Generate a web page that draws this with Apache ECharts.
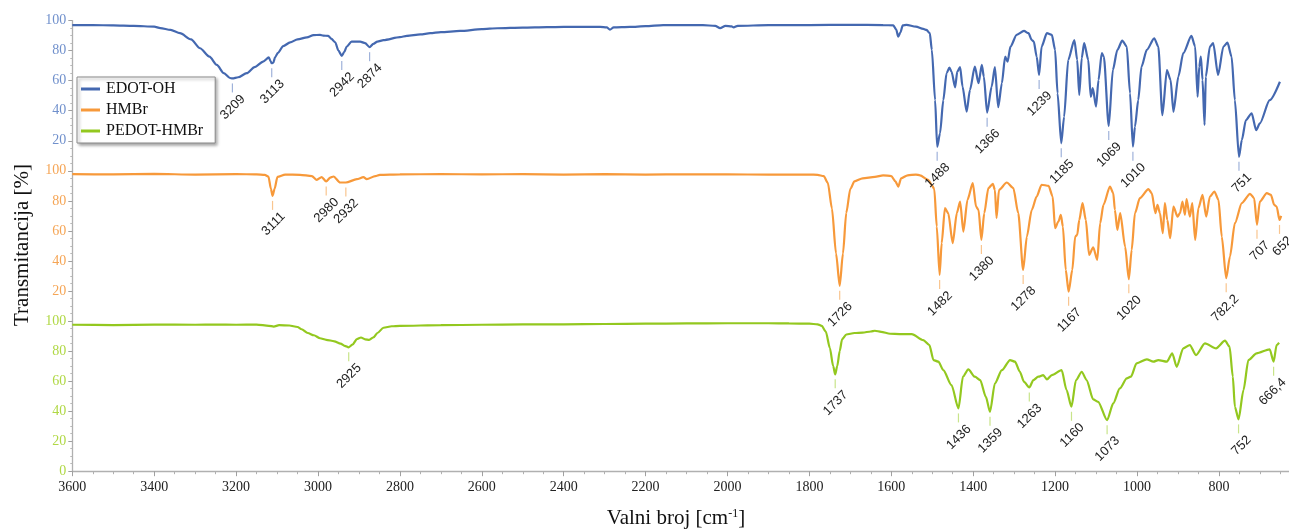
<!DOCTYPE html>
<html><head><meta charset="utf-8">
<script src="https://cdn.jsdelivr.net/npm/echarts@6/dist/echarts.min.js"></script>
<style>html,body{margin:0;padding:0;background:#fff;overflow:hidden;width:1289px;height:530px}#c{width:1310px;height:530px}</style>
</head><body><div id="c"></div>
<script>
// ---- data: [wavenumber (cm-1), transmittance (%)] ----
const seriesNames = ['EDOT-OH', 'HMBr', 'PEDOT-HMBr'];
const xTicks = [3600, 3400, 3200, 3000, 2800, 2600, 2400, 2200, 2000, 1800, 1600, 1400, 1200, 1000, 800];
const yTicks = [0, 20, 40, 60, 80, 100];

const edotOH = [[3600,97],[3550,97],[3500,96.8],[3450,96.5],[3400,96],[3385,95],[3360,93.8],[3337,91.6],[3310,87.5],[3288,81.6],[3265,76],[3247,70.5],[3230,65],[3215,61.8],[3209,61.5],[3195,62.3],[3174,65],[3155,69],[3134,72.7],[3120,75.5],[3116,73],[3113,71.6],[3109,72],[3105,75.5],[3098,78.5],[3085,83],[3068,85.5],[3050,87.5],[3027,88.8],[3011,90.3],[2995,90.5],[2987,90],[2975,89.8],[2967,87.8],[2958,85.5],[2950,80],[2942,76.5],[2936,79],[2930,82.7],[2918,86],[2897,86],[2885,85],[2874,82.3],[2865,84.5],[2855,86],[2840,87],[2800,89],[2783,89.8],[2750,90.8],[2726,91.6],[2700,92.3],[2653,93.1],[2600,94.3],[2562,94.9],[2500,95.3],[2441,95.6],[2400,95.8],[2311,95.8],[2295,95.5],[2287,94],[2278,95.5],[2238,95.8],[2200,96.3],[2157,97],[2116,97],[2060,97],[2030,96.5],[2018,95],[2005,96.5],[1990,96.2],[1985,95.5],[1975,96.5],[1900,97],[1800,97],[1700,97.2],[1620,97],[1595,96.8],[1588,94],[1583,89.3],[1578,92],[1572,96.8],[1563,97.2],[1540,96],[1522,94.5],[1514,93.8],[1506,91.6],[1501,80.5],[1493,47],[1488,16],[1481,25],[1473,47],[1465,65],[1458,68.7],[1453,66],[1444,55.6],[1439,66],[1432,69],[1426,56],[1416,39.3],[1408,53.8],[1396,69.3],[1387,58.3],[1379,70.5],[1374,62.7],[1366,38.7],[1355,56],[1347,69],[1339,42.3],[1330,58.3],[1322,76],[1316,72.7],[1309,82.7],[1294,90.5],[1276,93.1],[1265,91.6],[1257,87.1],[1252,86],[1245,76],[1239,63.8],[1233,82.7],[1220,91.6],[1208,90.5],[1200,80.5],[1194,51.6],[1185,18.3],[1178,36],[1168,73.8],[1153,87.1],[1146,73.8],[1141,50.5],[1135,75],[1129,85],[1119,73.8],[1113,49.3],[1108,55],[1100,42.7],[1094,60.5],[1086,78.3],[1081,76],[1069,29.8],[1059,67.1],[1048,80.5],[1036,86.7],[1025,82.7],[1017,51.6],[1010,16],[1005,29.3],[997,47],[989,69.3],[976,80.5],[958,88.2],[948,82.7],[938,37.1],[927,67.1],[918,60.5],[911,39.3],[899,62.7],[887,78.3],[867,89.8],[858,82.7],[852,49.3],[848,69.3],[844,76],[840,60.5],[835,30.5],[832,62.7],[822,82.7],[814,85],[802,63.8],[789,82.7],[779,85.3],[769,76],[761,47],[751,9.3],[744,20.5],[734,33.8],[720,38.3],[709,27.1],[700,31.6],[676,47],[651,59.3]];

const hmbr = [[3600,97.8],[3500,97.6],[3400,97.9],[3300,97.5],[3200,97.8],[3150,97.6],[3130,97.3],[3121,96.2],[3115,88],[3111,83.3],[3106,88],[3099,96],[3080,97.5],[3044,97.3],[3015,96.5],[3003,94],[2991,95.8],[2980,92.9],[2970,95.5],[2962,96.2],[2946,92.2],[2932,92.2],[2905,94.4],[2889,95.8],[2881,94.4],[2860,96.5],[2849,97.3],[2800,97.6],[2700,97.8],[2600,97.6],[2500,97.8],[2400,97.5],[2300,97.8],[2200,97.5],[2100,97.7],[2000,97.6],[1900,97.5],[1800,97.5],[1780,97.3],[1765,96.5],[1755,92],[1745,75],[1735,45],[1726,23.5],[1718,45],[1710,72],[1700,88],[1690,93],[1670,95],[1640,96],[1620,97],[1600,96.5],[1590,93],[1583,89.5],[1576,95],[1560,97],[1540,97.5],[1530,97],[1510,94],[1500,90],[1495,87.8],[1489,62.9],[1482,30.7],[1477,51.8],[1469,75.1],[1461,71.8],[1450,51.8],[1440,71.8],[1432,79.5],[1424,59.5],[1414,80.7],[1401,91.8],[1393,76.2],[1387,74],[1380,54],[1373,71.8],[1363,88.5],[1352,91.3],[1347,87.3],[1343,68.5],[1337,87.3],[1318,92.2],[1302,88.5],[1290,71.8],[1278,34],[1269,56.2],[1257,74],[1245,82.9],[1233,90.7],[1216,90],[1206,82.9],[1200,61.8],[1192,66.2],[1186,70.7],[1181,62.9],[1174,34],[1167,19.5],[1158,34],[1151,56.2],[1146,57.3],[1141,67.3],[1133,78.5],[1125,67.3],[1117,44],[1107,49.1],[1097,40.7],[1090,65.1],[1082,77.3],[1066,89.5],[1058,85.1],[1054,74],[1048,60.7],[1041,71.8],[1029,49.5],[1020,27.8],[1013,47.3],[1005,71.8],[993,81.8],[972,87.8],[964,85.1],[955,71.8],[950,77.3],[944,71.8],[937,58.5],[932,78.5],[926,67.3],[919,55.1],[911,76.2],[901,69.5],[895,71.8],[889,79.5],[883,70.7],[879,81.1],[871,69.5],[865,78.5],[858,54],[850,75.1],[840,84],[831,69.5],[822,82.9],[811,86.2],[801,80.7],[793,56.2],[782.2,28.5],[773,42.9],[761,65.1],[744,78.5],[724,84.7],[714,81.8],[707,64],[700,79.5],[683,85.1],[673,84],[665,77.3],[659,76.2],[652,67.3],[648,70]];

const pedotHmbr = [[3600,97.5],[3500,97.3],[3400,97.6],[3300,97.5],[3250,97.6],[3200,97.5],[3150,97.6],[3120,96.8],[3108,96.3],[3095,97.2],[3070,97],[3050,96],[3040,94.5],[3025,92],[3010,90.5],[2995,88.5],[2980,87.5],[2960,86.5],[2945,85],[2935,83.5],[2925,82.5],[2915,84.5],[2905,88],[2895,89],[2885,87.8],[2875,87.5],[2865,89],[2855,92],[2840,95.5],[2820,96.5],[2800,96.8],[2700,97.2],[2600,97.5],[2500,97.8],[2400,97.8],[2300,98],[2200,98.2],[2100,98.4],[2000,98.5],[1900,98.5],[1850,98.4],[1800,98.2],[1780,97.8],[1770,96.8],[1760,93],[1750,82],[1742,70],[1737,64.5],[1732,70],[1726,80],[1720,88],[1710,91],[1690,92],[1670,92.3],[1650,93],[1640,93.5],[1625,92.8],[1603,91.5],[1580,91.3],[1550,91.3],[1522,87.3],[1507,84],[1497,74],[1485,72.9],[1473,67.3],[1453,57.3],[1436,41.8],[1425,62.9],[1412,67.8],[1396,62.9],[1383,60.7],[1369,49.5],[1359,39.5],[1347,58.5],[1330,67.3],[1310,74],[1298,72.9],[1286,66.2],[1276,59.5],[1263,55.8],[1253,60.7],[1241,62.9],[1229,64],[1220,61.1],[1208,64],[1184,67.3],[1172,54],[1160,42.9],[1149,60.7],[1135,66.2],[1123,60.7],[1107,47.8],[1095,46.2],[1073,34],[1058,45.1],[1042,55.1],[1025,61.8],[1015,62.9],[1001,71.8],[976,74.5],[960,72.9],[948,74],[927,72.9],[914,78.5],[903,69.5],[887,81.8],[871,84],[856,77.3],[834,85.1],[807,81.8],[785,86.9],[774,82.9],[766,62.9],[761,42.9],[752,34.5],[740,54],[728,74],[708,78.5],[676,81.1],[666.4,72.9],[659,84],[653,85.5]];

// peak annotations: [wavenumber, transmittance at the peak]
const edotPeaks = [[3209,61.5],[3113,71.6],[2942,76.5],[2874,82.3],[1488,16],[1366,38.7],[1239,63.8],[1185,18.3],[1069,29.8],[1010,16],[751,9.3]];
const edotPeakLabels = ['3209','3113','2942','2874','1488','1366','1239','1185','1069','1010','751'];
const hmbrPeaks = [[3111,83.3],[2980,92.9],[2932,92.2],[1726,23.5],[1482,30.7],[1380,54],[1278,34],[1167,19.5],[1020,27.8],[782.2,28.5],[707,64],[652,67.3]];
const hmbrPeakLabels = ['3111','2980','2932','1726','1482','1380','1278','1167','1020','782,2','707','652'];
const pedotPeaks = [[2925,82.5],[1737,64.5],[1436,41.8],[1359,39.5],[1263,55.8],[1160,42.9],[1073,34],[752,34.5],[666.4,72.9]];
const pedotPeakLabels = ['2925','1737','1436','1359','1263','1160','1073','752','666,4'];

// ---- styling ----
const lineColors = ['#4468b0', '#f7993a', '#93c81f'];
const labelColors = ['#7090cc', '#f5a555', '#b0d845'];
const tickColors = ['#9fb2da', '#f9c58f', '#c8e48a'];
const serif = '"Liberation Serif","Times New Roman",serif';
const sans = '"Liberation Sans",Arial,sans-serif';

const gridLeft = 72.3, gridWidth = 1228.5, gridH = 150.2;
const tops = [20.6, 20.6 + gridH, 20.6 + 2 * gridH];

const chart = echarts.init(document.getElementById('c'), null, {renderer: 'canvas'});

const grids = tops.map(t => ({left: gridLeft, top: t, width: gridWidth, height: gridH, containLabel: false}));
const xAxes = [0, 1, 2].map(i => ({
  type: 'value', gridIndex: i, min: 600, max: 3600, interval: 200, inverse: true,
  show: i === 2,
  axisLine: {show: true, onZero: false, lineStyle: {color: '#b0b0b0', width: 1.3}},
  axisTick: {show: true, length: 5, lineStyle: {color: '#a0a0a0'}},
  minorTick: {show: true, splitNumber: 4, length: 3, lineStyle: {color: '#b0b0b0'}},
  splitLine: {show: false},
  axisLabel: {color: '#222', fontFamily: serif, fontSize: 14, margin: 9,
    formatter: v => xTicks.indexOf(v) >= 0 ? String(v) : ''}
}));
const yAxes = [0, 1, 2].map(i => ({
  type: 'value', gridIndex: i, min: yTicks[0], max: yTicks[yTicks.length - 1], interval: 20,
  axisLine: {show: true, lineStyle: {color: '#b0b0b0', width: 1.3}},
  axisTick: {show: true, length: 4, lineStyle: {color: '#a0a0a0'}},
  minorTick: {show: true, splitNumber: 4, length: 2, lineStyle: {color: '#b8b8b8'}},
  splitLine: {show: false},
  axisLabel: {color: labelColors[i], fontFamily: serif, fontSize: 14, margin: 6, showMinLabel: i === 2}
}));

const datasets = [edotOH, hmbr, pedotHmbr];
const peaks = [edotPeaks, hmbrPeaks, pedotPeaks];
const peakLabels = [edotPeakLabels, hmbrPeakLabels, pedotPeakLabels];

const series = [];
datasets.forEach((d, i) => {
  series.push({
    name: seriesNames[i], type: 'line', xAxisIndex: i, yAxisIndex: i, data: d,
    showSymbol: false, smooth: 0.25, smoothMonotone: 'x',
    lineStyle: {color: lineColors[i], width: 2.2}, itemStyle: {color: lineColors[i]},
    z: 3
  });
});
peaks.forEach((pk, i) => {
  series.push({
    type: 'custom', xAxisIndex: i, yAxisIndex: i, data: pk, z: 4, silent: true,
    encode: {x: 0, y: 1},
    renderItem: (params, api) => {
      const p = api.coord([api.value(0), api.value(1)]);
      const txt = peakLabels[i][params.dataIndex];
      return {type: 'group', children: [
        {type: 'line', shape: {x1: p[0], y1: p[1] + 5, x2: p[0], y2: p[1] + 14},
          style: {stroke: tickColors[i], lineWidth: 1.2}},
        {type: 'text', x: p[0] + 6, y: p[1] + 14, rotation: Math.PI / 4,
          style: {text: txt, align: 'right', verticalAlign: 'top', font: '13px ' + sans, fill: '#222'}}
      ]};
    }
  });
});

chart.setOption({
  animation: false,
  backgroundColor: '#fff',
  grid: grids, xAxis: xAxes, yAxis: yAxes, series: series,
  legend: {
    data: seriesNames.map((n, i) => ({name: n, icon: 'rect', itemStyle: {color: lineColors[i]}})),
    orient: 'vertical', left: 77, top: 77, itemWidth: 19, itemHeight: 3, itemGap: 5,
    padding: [4, 12, 4, 4], backgroundColor: '#fff', borderColor: '#8a8a8a', borderWidth: 1,
    shadowColor: 'rgba(0,0,0,0.35)', shadowBlur: 3, shadowOffsetX: 2, shadowOffsetY: 2,
    textStyle: {color: '#111', fontFamily: serif, fontSize: 16, padding: [0, 0, 0, 1]}
  },
  graphic: [
    {type: 'text', x: 22, y: 245, rotation: Math.PI / 2,
      style: {text: 'Transmitancija [%]', font: '21px ' + serif, fill: '#111', align: 'center', verticalAlign: 'middle'}},
    {type: 'text', x: 676, y: 518,
      style: {text: '{a|Valni broj [cm}{s|-1}{a|]}', align: 'center', verticalAlign: 'middle',
        rich: {a: {fontFamily: serif, fontSize: 21, fill: '#111', verticalAlign: 'bottom'},
               s: {fontFamily: serif, fontSize: 12, fill: '#111', verticalAlign: 'top'}}}}
  ]
});
</script></body></html>
